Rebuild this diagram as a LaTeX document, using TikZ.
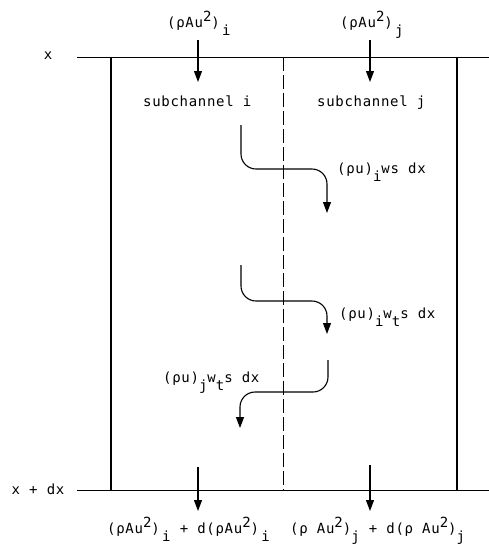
\documentclass[tikz,border=0pt]{standalone}
\usepackage{fontspec}
\usetikzlibrary{arrows.meta}
\newfontfamily\tw[LetterSpace=5]{DejaVu Sans Mono}
\newcommand\up[1]{\raisebox{6pt}{#1}}
\newcommand\dn[1]{\raisebox{-8pt}{#1}}
\begin{document}
\begin{tikzpicture}[x=1pt,y=-1pt,
  txt/.style={font=\tw\fontsize{14}{16}\selectfont, inner sep=0pt, anchor=base west},
  thinline/.style={line width=1pt},
  wall/.style={line width=2.6pt},
  flow/.style={line width=1.1pt, -{Triangle[width=8pt,length=11pt]}},
  crossflow/.style={flow, rounded corners=15pt},
  divider/.style={line width=0.9pt, dash pattern=on 14pt off 4pt}]
\useasboundingbox (0,0) rectangle (489,550);
% coordinates
\coordinate (TL) at (77,57);  \coordinate (TR) at (489,57);
\coordinate (BL) at (77,490); \coordinate (BR) at (489,490);
\coordinate (W1t) at (111,57); \coordinate (W1b) at (111,490);
\coordinate (W2t) at (457,57); \coordinate (W2b) at (457,490);
\coordinate (Dt) at (283,57); \coordinate (Db) at (283,490);
% lines
\draw[thinline] (TL) -- (TR);
\draw[thinline] (BL) -- (BR);
\draw[wall] (W1t) -- (W1b);
\draw[wall] (W2t) -- (W2b);
\draw[divider] (Dt) -- (Db);
% axis labels
\node[txt, anchor=center] (xl) at (48,56) {x};
\node[txt, anchor=center] (xdl) at (38,489) {x + dx};
% top arrows and labels
\node[txt] (ti) at (167,27) {(ρAu\up{2})\,\dn{i}};
\node[txt] (tj) at (340,27) {(ρAu\up{2})\,\dn{j}};
\coordinate (ai1) at (198,40); \coordinate (ai2) at (198,82);
\coordinate (aj1) at (370,40); \coordinate (aj2) at (370,82);
\draw[flow] (ai1) -- (ai2);
\draw[flow] (aj1) -- (aj2);
% subchannel names
\node[txt] (si) at (143,106) {subchannel i};
\node[txt] (sj) at (317,106) {subchannel j};
% crossflow 1
\coordinate (c1a) at (241,125); \coordinate (c1b) at (241,169);
\coordinate (c1c) at (327,169); \coordinate (c1d) at (327,213);
\draw[crossflow] (c1a) -- (c1b) -- (c1c) -- (c1d);
\node[txt] (l1) at (337,173) {(ρu)\dn{i}ws dx};
% crossflow 2
\coordinate (c2a) at (241,265); \coordinate (c2b) at (241,301);
\coordinate (c2c) at (327,301); \coordinate (c2d) at (327,334);
\draw[crossflow] (c2a) -- (c2b) -- (c2c) -- (c2d);
\node[txt] (l2) at (339,318) {(ρu)\dn{i}w\dn{t}s dx};
% crossflow 3
\coordinate (c3a) at (328,360); \coordinate (c3b) at (328,392);
\coordinate (c3c) at (240,392); \coordinate (c3d) at (240,428);
\draw[crossflow] (c3a) -- (c3b) -- (c3c) -- (c3d);
\node[txt] (l3) at (163,382) {(ρu)\dn{j}w\dn{t}s dx};
% bottom arrows and labels
\coordinate (bi1) at (198,467); \coordinate (bi2) at (198,511);
\coordinate (bj1) at (370,465); \coordinate (bj2) at (370,511);
\draw[flow] (bi1) -- (bi2);
\draw[flow] (bj1) -- (bj2);
\node[txt] (bli) at (107,533) {(ρAu\up{2})\,\dn{i} + d(ρAu\up{2})\,\dn{i}};
\node[txt] (blj) at (290,533) {(ρ Au\up{2})\dn{j} + d(ρ Au\up{2})\dn{j}};
\end{tikzpicture}
\end{document}
